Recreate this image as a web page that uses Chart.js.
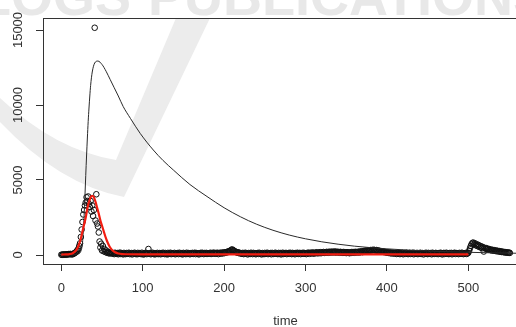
<!DOCTYPE html>
<html>
<head>
<meta charset="utf-8">
<script src="https://cdn.jsdelivr.net/npm/chart.js@4.4.0/dist/chart.umd.min.js"></script>
<style>
  html, body { margin: 0; padding: 0; background: #fff; overflow: hidden; }
  #wrap { width: 516px; height: 327px; overflow: hidden; }
</style>
</head>
<body>
<div id="wrap"><canvas id="plot" width="540" height="327"></canvas></div>
<script>
// observed daily counts, first outbreak (day 0 .. 61)
const peakStart = 0;
const peakCounts = [
    20, 10, 30, 20, 40, 30, 20, 50, 40, 60,
    50, 70, 60, 40, 60, 80, 120, 150, 200, 260,
    330, 420, 600, 780, 1200, 1700, 2200, 2700, 3000, 3300,
    3500, 3850, 3600, 3900, 3400, 3200, 3600, 2900, 3300, 2600,
    3000, 15150, 2300, 4050, 2100, 1900, 1500, 900, 500, 750,
    300, 600, 250, 400, 200, 300, 150, 220, 120, 180,
    100, 150
];

// observed daily counts, quiet period (day 62 .. 499)
const flatStart = 62;
const flatCounts = [
    140, 90, 120, 60, 150, 100, 80, 130, 50, 110, 160, 70, 120, 90, 40, 140, 100, 60, 130, 80,
    110, 150, 60, 100, 130, 40, 120, 90, 150, 70, 110, 50, 140, 80, 120, 100, 60, 150, 90, 30,
    120, 80, 140, 60, 110, 400, 90, 130, 50, 100, 150, 70, 120, 40, 110, 90, 140, 60, 100, 130,
    50, 120, 80, 150, 100, 60, 130, 90, 40, 140, 70, 110, 150, 60, 120, 80, 100, 140, 50, 110,
    90, 130, 60, 150, 100, 70, 120, 40, 140, 90, 110, 60, 150, 80, 130, 100, 50, 120, 90, 140,
    70, 110, 150, 60, 130, 90, 120, 40, 100, 140, 80, 150, 110, 60, 130, 90, 140, 70, 120, 100,
    110, 150, 70, 130, 90, 160, 120, 80, 140, 100, 150, 60, 130, 110, 160, 90, 140, 170, 120, 180,
    160, 200, 180, 230, 260, 240, 300, 350, 370, 320, 290, 250, 220, 190, 160, 180, 130, 150, 100, 120,
    80, 140, 60, 110, 150, 90, 120, 40, 130, 100, 70, 150, 110, 60, 140, 90, 120, 50, 100, 130,
    70, 150, 90, 110, 40, 130, 100, 60, 140, 80, 120, 150, 60, 110, 90, 130, 50, 140, 100, 70,
    120, 150, 80, 110, 60, 140, 90, 130, 40, 100, 150, 70, 120, 90, 140, 60, 110, 130, 80, 150,
    100, 60, 140, 90, 120, 50, 130, 100, 150, 70, 110, 140, 60, 120, 90, 150, 80, 130, 100, 60,
    140, 110, 160, 80, 130, 150, 100, 170, 120, 90, 160, 140, 180, 110, 150, 130, 190, 120, 170, 150,
    200, 140, 180, 160, 210, 170, 150, 220, 190, 160, 230, 180, 210, 170, 240, 190, 160, 220, 180, 200,
    150, 210, 170, 190, 140, 200, 160, 180, 130, 190, 150, 170, 120, 180, 140, 200, 160, 190, 150, 210,
    170, 200, 180, 220, 160, 230, 200, 250, 190, 260, 220, 280, 240, 300, 260, 290, 320, 280, 330, 300,
    340, 310, 350, 320, 300, 330, 280, 300, 260, 280, 240, 250, 220, 230, 200, 210, 180, 190, 160, 170,
    140, 180, 120, 160, 100, 150, 130, 90, 140, 110, 70, 150, 100, 130, 60, 120, 90, 140, 50, 110,
    130, 80, 150, 100, 60, 120, 140, 70, 110, 90, 150, 50, 130, 100, 80, 140, 60, 120, 90, 150,
    70, 110, 130, 40, 120, 100, 150, 80, 60, 140, 110, 90, 130, 50, 150, 100, 70, 120, 140, 80,
    110, 60, 130, 100, 150, 90, 40, 120, 140, 70, 110, 150, 80, 100, 60, 130, 90, 140, 50, 120,
    100, 150, 70, 130, 90, 110, 60, 140, 100, 80, 150, 120, 60, 110, 90, 140, 70, 120
];

// observed daily counts, second wave (day 500 .. 551)
const lateStart = 500;
const lateCounts = [
    150, 280, 450, 600, 720, 800, 830, 700, 780, 650,
    720, 600, 680, 550, 620, 500, 580, 450, 520, 230,
    480, 420, 460, 380, 420, 350, 390, 330, 360, 300,
    340, 290, 320, 270, 300, 250, 280, 240, 260, 220,
    240, 200, 220, 190, 200, 170, 190, 160, 170, 150,
    160, 140
];

// fitted curve (red)
const fitDays = [0, 5, 10, 14, 18, 21, 24, 27, 30, 32, 34, 36, 38, 40, 42, 44, 46, 48, 50, 52,
    54, 56, 58, 60, 63, 66, 70, 75, 80, 100, 150, 200, 250, 300, 350, 400, 450, 500];
const fitCounts = [30, 40, 60, 120, 300, 600, 1100, 1800, 2500, 3100, 3550, 3850, 3950, 3850, 3550, 3150, 2750, 2300, 1950, 1600,
    1250, 950, 700, 500, 300, 180, 100, 60, 50, 40, 40, 40, 40, 40, 40, 40, 40, 40];

// model curve (black)
const modelDays = [0, 10, 20, 24, 26, 27, 28, 29, 30, 31, 32, 33, 34, 35, 36, 38, 41, 45, 50, 55,
    60, 65, 70, 76, 85, 97, 113, 125, 138, 158, 179, 200, 220, 240, 260, 280, 300, 320, 340, 360,
    380, 400, 425, 450, 475, 500, 525, 550, 575];
const modelCounts = [0, 5, 60, 250, 800, 1600, 2600, 3900, 5300, 6600, 7800, 8900, 9800, 10600, 11300, 12200, 12800, 12930, 12700, 12250,
    11700, 11150, 10600, 9900, 9100, 8100, 7000, 6300, 5650, 4700, 3900, 3150, 2550, 2050, 1650, 1330, 1080, 880, 720, 590,
    490, 410, 330, 270, 220, 180, 150, 125, 105];

const xTickValues = [0, 100, 200, 300, 400, 500];
const yTickValues = [0, 5000, 10000, 15000];
const yTickLabels = ['0', '5000', '10000', '15000'];

const FONT = '"Liberation Sans", Arial, sans-serif';
Chart.defaults.font.family = FONT;
Chart.defaults.font.size = 13;
Chart.defaults.color = '#333';

function toPoints(days, counts) {
    return days.map((d, i) => ({ x: d, y: counts[i] }));
}

function dailyPoints(start, counts) {
    return counts.map((c, i) => ({ x: start + i, y: c }));
}

const observed = dailyPoints(peakStart, peakCounts)
    .concat(dailyPoints(flatStart, flatCounts))
    .concat(dailyPoints(lateStart, lateCounts));

// R-style extras: rotated y labels, box, faint watermark
const rStyle = {
    id: 'rStyle',
    beforeDraw(chart) {
        const ctx = chart.ctx;
        ctx.save();
        ctx.fillStyle = '#fff';
        ctx.fillRect(0, 0, chart.width, chart.height);
        ctx.fillStyle = '#ececec';
        ctx.beginPath();
        ctx.moveTo(0, 122);
        ctx.quadraticCurveTo(60, 185, 124, 197);
        ctx.lineTo(210, 18);
        ctx.lineTo(176, 18);
        ctx.lineTo(116, 160);
        ctx.quadraticCurveTo(55, 150, 0, 98);
        ctx.closePath();
        ctx.fill();
        ctx.font = 'bold 54px ' + FONT;
        ctx.fillStyle = '#e8e8e8';
        ctx.textBaseline = 'alphabetic';
        ctx.fillText('LOGS', -22, 15);
        ctx.fillText('PUBLICATIONS', 148, 15);
        ctx.restore();
    },
    afterDraw(chart) {
        const ctx = chart.ctx;
        const y = chart.scales.y;
        const a = chart.chartArea;
        ctx.save();
        ctx.font = '13px ' + FONT;
        ctx.fillStyle = '#333';
        ctx.textAlign = 'center';
        ctx.textBaseline = 'middle';
        yTickValues.forEach((v, i) => {
            ctx.save();
            ctx.translate(18, y.getPixelForValue(v));
            ctx.rotate(-Math.PI / 2);
            ctx.fillText(yTickLabels[i], 0, 0);
            ctx.restore();
        });
        ctx.strokeStyle = '#333';
        ctx.lineWidth = 1;
        ctx.strokeRect(Math.round(a.left) + 0.5, Math.round(a.top) + 0.5,
            Math.round(a.right - a.left), Math.round(a.bottom - a.top));
        ctx.restore();
    }
};

new Chart(document.getElementById('plot'), {
    type: 'scatter',
    data: {
        datasets: [
            {
                label: 'fit',
                data: toPoints(fitDays, fitCounts),
                showLine: true,
                borderColor: '#f21c10',
                borderWidth: 2.2,
                pointRadius: 0,
                cubicInterpolationMode: 'monotone',
                order: 0
            },
            {
                label: 'model',
                data: toPoints(modelDays, modelCounts),
                showLine: true,
                borderColor: '#2a2a2a',
                borderWidth: 1,
                pointRadius: 0,
                cubicInterpolationMode: 'monotone',
                order: 1
            },
            {
                label: 'observed',
                data: observed,
                showLine: false,
                pointStyle: 'circle',
                pointRadius: 2.8,
                pointBorderWidth: 1,
                pointBackgroundColor: 'rgba(0,0,0,0)',
                pointBorderColor: '#111',
                order: 2
            }
        ]
    },
    options: {
        responsive: false,
        animation: false,
        events: [],
        layout: { padding: { top: 18, right: 12, left: 0, bottom: 0 } },
        plugins: {
            legend: { display: false },
            tooltip: { enabled: false }
        },
        scales: {
            x: {
                type: 'linear',
                min: -22.5,
                max: 573.3,
                afterBuildTicks: scale => { scale.ticks = xTickValues.map(v => ({ value: v })); },
                afterFit: scale => { scale.height = 63; },
                ticks: { padding: 10, callback: v => String(v), maxRotation: 0, color: '#333' },
                grid: { drawOnChartArea: false, drawTicks: true, tickLength: 7, color: '#333' },
                border: { display: false },
                title: { display: true, text: 'time', color: '#333', font: { size: 13, lineHeight: 1 }, padding: { top: 0, bottom: -1 } }
            },
            y: {
                type: 'linear',
                min: -600,
                max: 15800,
                afterBuildTicks: scale => { scale.ticks = yTickValues.map(v => ({ value: v })); },
                afterFit: scale => { scale.width = 43; },
                ticks: { display: false },
                grid: { drawOnChartArea: false, drawTicks: true, tickLength: 7, color: '#333' },
                border: { display: false }
            }
        }
    },
    plugins: [rStyle]
});
</script>
</body>
</html>
